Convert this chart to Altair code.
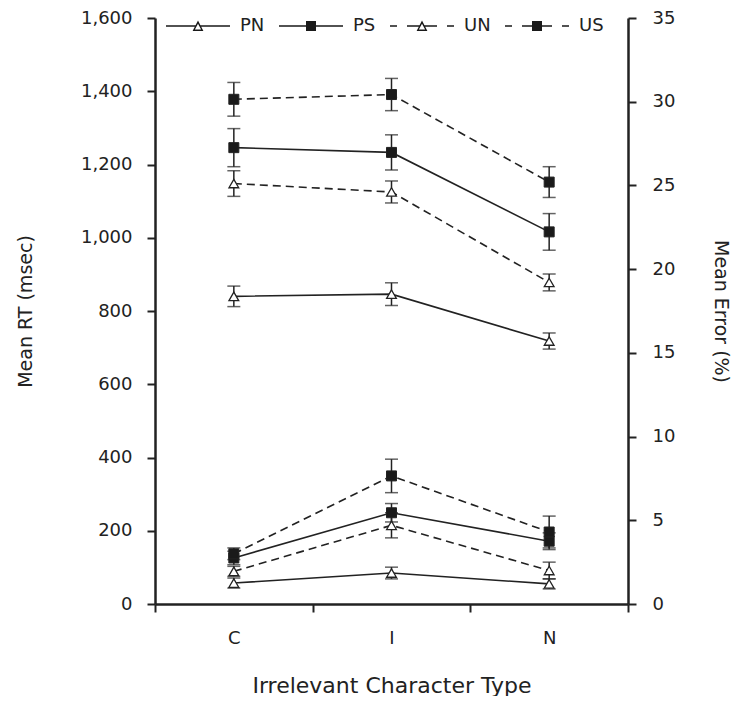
import altair as alt
import pandas as pd

categories = ["C", "I", "N"]
series = ["PN", "PS", "UN", "US"]
solid_series = ["PN", "PS"]
dashed_series = ["UN", "US"]
triangle_series = ["PN", "UN"]
square_series = ["PS", "US"]

rt_mean = {
    "PN": [840, 846, 718],
    "PS": [1246, 1233, 1016],
    "UN": [1148, 1125, 878],
    "US": [1378, 1391, 1152],
}
rt_se = {
    "PN": [28, 31, 22],
    "PS": [52, 48, 50],
    "UN": [35, 30, 23],
    "US": [46, 44, 42],
}
err_mean = {
    "PN": [1.25, 1.85, 1.2],
    "PS": [2.75, 5.45, 3.75],
    "UN": [1.95, 4.7, 2.0],
    "US": [3.0, 7.65, 4.3],
}
err_se = {
    "PN": [0.3, 0.35, 0.3],
    "PS": [0.4, 0.55, 0.5],
    "UN": [0.3, 0.75, 0.5],
    "US": [0.35, 1.0, 0.95],
}

rows = []
for s in series:
    for i, c in enumerate(categories):
        rows.append({
            "type": c, "cond": s,
            "rt": rt_mean[s][i], "rt_lo": rt_mean[s][i] - rt_se[s][i], "rt_hi": rt_mean[s][i] + rt_se[s][i],
            "err": err_mean[s][i], "err_lo": err_mean[s][i] - err_se[s][i], "err_hi": err_mean[s][i] + err_se[s][i],
        })
df = pd.DataFrame(rows)

INK = "#222222"
FONT = "DejaVu Sans"

# ---- legend glyphs (line + marker) as filled custom symbol paths ----
SYM_SIZE = 400            # sqrt(size)/2 = 10 px per path unit
UNIT = 10.0
MARK_CX = 22.0            # marker centre, px right of the symbol anchor


def ux(px):
    return f"{(px + MARK_CX) / UNIT:.3f}"


def uy(px):
    return f"{px / UNIT:.3f}"


def seg(x0, x1, h=0.75):
    return f"M{ux(x0)},{uy(-h)}H{ux(x1)}V{uy(h)}H{ux(x0)}Z"


def ring_triangle():
    outer = f"M{ux(-5.4)},{uy(5.0)}L{ux(0)},{uy(-5.4)}L{ux(5.4)},{uy(5.0)}Z"
    inner = f"M{ux(-3.1)},{uy(3.6)}L{ux(3.1)},{uy(3.6)}L{ux(0)},{uy(-2.36)}Z"
    return outer + inner


def square():
    return f"M{ux(-5)},{uy(-5)}H{ux(5)}V{uy(5)}H{ux(-5)}Z"


legend_paths = [
    seg(-32, -2.2) + seg(2.2, 32) + ring_triangle(),
    seg(-32, 32) + square(),
    seg(-32, -25) + seg(-15, -2.2) + seg(2.2, 15) + seg(25, 32) + ring_triangle(),
    seg(-32, -25) + seg(-15, -4) + seg(4, 15) + seg(25, 32) + square(),
]

legend = alt.Legend(
    title=None, orient="none", legendX=11, legendY=-2,
    direction="horizontal", columns=4, columnPadding=14,
    symbolSize=SYM_SIZE, symbolStrokeWidth=0, symbolFillColor="#1a1a1a",
    labelFontSize=18, labelFont=FONT, labelColor=INK, labelOffset=54,
)

x_enc = alt.X(
    "type:N", sort=categories,
    scale=alt.Scale(type="band", paddingInner=0, paddingOuter=0),
    axis=alt.Axis(
        title="Irrelevant Character Type", tickBand="extent", labelAngle=0,
        labelFontSize=18, titleFontSize=22, labelPadding=17, titlePadding=28,
        titleFontWeight="normal",
    ),
)


def only(chart, names):
    return chart.transform_filter(alt.FieldOneOfPredicate(field="cond", oneOf=names))


def group(mean, lo, hi, domain, values, title, orient, fmt, lab_pad, title_pad):
    y_scale = alt.Scale(domain=domain, nice=False, zero=True)
    base = alt.Chart(df)
    y_main = alt.Y(
        f"{mean}:Q", scale=y_scale,
        axis=alt.Axis(
            title=title, orient=orient, values=values, format=fmt,
            labelFontSize=18, titleFontSize=19, labelPadding=lab_pad,
            titlePadding=title_pad, titleFontWeight="normal",
        ),
    )
    solid = only(base, solid_series).mark_line(color=INK, strokeWidth=1.6).encode(
        x=x_enc, y=y_main, detail="cond:N",
    )
    dashed = only(base, dashed_series).mark_line(
        color=INK, strokeWidth=1.6, strokeDash=[8, 5]
    ).encode(
        x=x_enc, y=alt.Y(f"{mean}:Q", scale=y_scale), detail="cond:N",
    )
    rule = base.mark_rule(color=INK, strokeWidth=1.5).encode(
        x=x_enc, y=alt.Y(f"{lo}:Q", scale=y_scale), y2=f"{hi}:Q",
    )
    cap_lo = base.mark_tick(color=INK, size=13, thickness=1.5).encode(
        x=x_enc, y=alt.Y(f"{lo}:Q", scale=y_scale),
    )
    cap_hi = base.mark_tick(color=INK, size=13, thickness=1.5).encode(
        x=x_enc, y=alt.Y(f"{hi}:Q", scale=y_scale),
    )
    tri_pts = only(base, triangle_series).mark_point(
        shape="triangle-up", filled=True, fill="white", stroke=INK,
        strokeWidth=1.3, opacity=1, size=95,
    ).encode(x=x_enc, y=alt.Y(f"{mean}:Q", scale=y_scale))
    sq_pts = only(base, square_series).mark_point(
        shape="square", filled=True, fill="#1a1a1a", stroke=INK,
        strokeWidth=1, opacity=1, size=100,
    ).encode(x=x_enc, y=alt.Y(f"{mean}:Q", scale=y_scale))
    return alt.layer(solid, dashed, rule, cap_lo, cap_hi, tri_pts, sq_pts)


rt_group = group("rt", "rt_lo", "rt_hi", [0, 1600], list(range(0, 1601, 200)),
                 "Mean RT (msec)", "left", ",d", 15, 45)
err_group = group("err", "err_lo", "err_hi", [0, 35], list(range(0, 36, 5)),
                  "Mean Error (%)", "right", "d", 16, 36)

legend_layer = alt.Chart(df).transform_filter("false").mark_point(
    filled=True, fill="#1a1a1a", opacity=1
).encode(
    shape=alt.Shape("cond:N", scale=alt.Scale(domain=series, range=legend_paths), legend=legend),
)

chart = alt.layer(rt_group, err_group, legend_layer).resolve_scale(
    y="independent"
).properties(
    width=473, height=586,
    padding={"left": 8, "top": 1, "right": 2, "bottom": 0},
).configure_view(stroke=None).configure_axis(
    grid=False, domainColor=INK, domainWidth=2.5, tickColor=INK, tickWidth=2,
    tickSize=8, labelColor=INK, titleColor=INK, labelFont=FONT, titleFont=FONT,
)

chart.save("out.html", embed_options={"renderer": "svg", "actions": False})
